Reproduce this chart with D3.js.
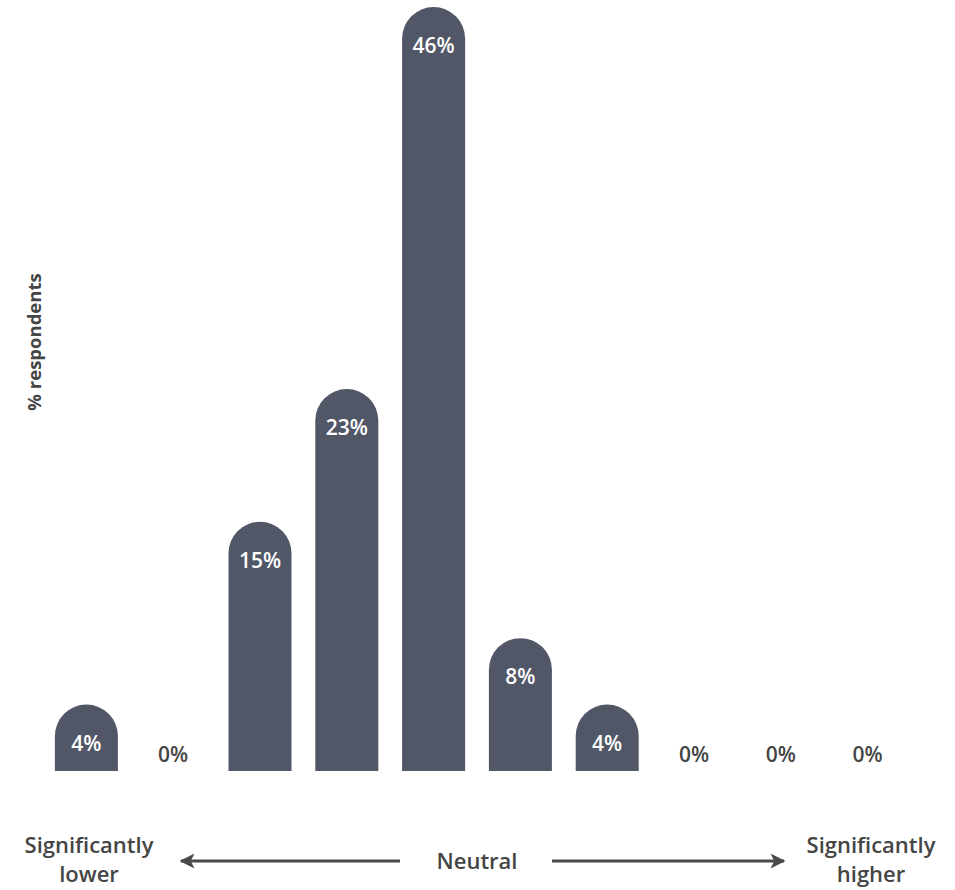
<!DOCTYPE html>
<html>
<head>
<meta charset="utf-8">
<script src="https://cdn.jsdelivr.net/npm/d3@7"></script>
<style>
  html, body { margin: 0; padding: 0; background: #fff; }
  svg { display: block; font-family: "Open Sans", "Noto Sans", sans-serif; }
</style>
</head>
<body>
<svg id="chart" width="955" height="890"></svg>
<script>
const categories = ["c1","c2","c3","c4","c5","c6","c7","c8","c9","c10"];
const values = [4, 0, 15, 23, 46, 8, 4, 0, 0, 0];
const yTitle = "% respondents";
const leftLabel = ["Significantly", "lower"];
const midLabel = "Neutral";
const rightLabel = ["Significantly", "higher"];

const svg = d3.select("#chart");
const barColor = "#525768";
const textColor = "#454545";

const x = d3.scaleBand().domain(categories).range([43, 911]).paddingInner(0.274).paddingOuter(0.137);
const y = d3.scaleLinear().domain([0, 46]).range([771, 7]);

const bw = x.bandwidth();
const r = bw / 2;

function barPath(d, i) {
  const x0 = x(categories[i]);
  const top = y(d);
  const bottom = y(0);
  const h = bottom - top;
  const rr = Math.min(r, h);
  return `M${x0},${bottom} L${x0},${top + rr} A${r},${rr} 0 0 1 ${x0 + bw},${top + rr} L${x0 + bw},${bottom} Z`;
}

const g = svg.append("g");
g.selectAll("path.bar")
  .data(values)
  .join("path")
  .attr("class", "bar")
  .attr("d", (d, i) => d > 0 ? barPath(d, i) : null)
  .attr("fill", barColor);

g.selectAll("text.val")
  .data(values)
  .join("text")
  .attr("class", "val")
  .attr("x", (d, i) => x(categories[i]) + bw / 2)
  .attr("y", d => d > 0 ? y(d) + 46 : y(0) - 9)
  .attr("text-anchor", "middle")
  .attr("font-size", 21)
  .attr("font-weight", 600)
  .attr("fill", d => d > 0 ? "#ffffff" : textColor)
  .text(d => d + "%");

// Y-axis title
svg.append("text")
  .attr("transform", "translate(41,342) rotate(-90)")
  .attr("text-anchor", "middle")
  .attr("font-size", 18.5)
  .attr("font-weight", 700)
  .attr("fill", textColor)
  .text(yTitle);

// Bottom labels
function twoLine(lines, cx) {
  const t = svg.append("text")
    .attr("text-anchor", "middle")
    .attr("font-size", 22)
    .attr("font-weight", 600)
    .attr("fill", textColor);
  lines.forEach((l, i) => {
    t.append("tspan").attr("x", cx).attr("y", 853 + i * 29).text(l);
  });
}
twoLine(leftLabel, 89);
twoLine(rightLabel, 871);

svg.append("text")
  .attr("x", 477).attr("y", 869)
  .attr("text-anchor", "middle")
  .attr("font-size", 22)
  .attr("font-weight", 600)
  .attr("fill", textColor)
  .text(midLabel);

// Arrows
const defs = svg.append("defs");
defs.append("marker")
  .attr("id", "ah")
  .attr("viewBox", "0 0 10 10")
  .attr("refX", 9).attr("refY", 5)
  .attr("markerWidth", 5).attr("markerHeight", 5)
  .attr("markerUnits", "strokeWidth")
  .attr("orient", "auto")
  .append("path")
  .attr("d", "M0,0 L10,5 L0,10 L2.5,5 Z")
  .attr("fill", "#4a4a4a");

svg.append("line")
  .attr("x1", 400).attr("y1", 861).attr("x2", 181).attr("y2", 861)
  .attr("stroke", "#4a4a4a").attr("stroke-width", 3)
  .attr("marker-end", "url(#ah)");
svg.append("line")
  .attr("x1", 552).attr("y1", 861).attr("x2", 784).attr("y2", 861)
  .attr("stroke", "#4a4a4a").attr("stroke-width", 3)
  .attr("marker-end", "url(#ah)");
</script>
</body>
</html>
